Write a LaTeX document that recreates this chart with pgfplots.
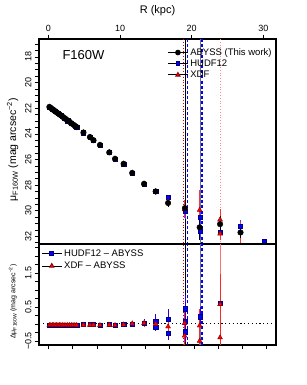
\documentclass[border=0pt]{standalone}
\usepackage{fontspec}
\setmainfont{Liberation Sans}
\usepackage{pgfplots}
\pgfplotsset{compat=1.18}
\usepackage{pgfplotstable}

\pgfplotstableread{
x y e
0.15 21.90 0.02
0.35 21.98 0.02
0.55 22.07 0.02
0.75 22.15 0.02
0.95 22.23 0.02
1.15 22.32 0.02
1.35 22.40 0.02
1.55 22.48 0.02
1.75 22.56 0.02
1.95 22.65 0.02
2.20 22.75 0.02
2.45 22.85 0.02
2.70 22.96 0.02
2.95 23.06 0.02
3.20 23.17 0.02
3.45 23.27 0.02
3.70 23.37 0.02
3.96 23.48 0.03
4.90 23.90 0.03
5.80 24.25 0.03
6.30 24.50 0.03
7.20 24.87 0.04
8.50 25.45 0.05
9.30 25.95 0.06
10.50 26.34 0.08
11.70 27.05 0.15
13.35 27.90 0.18
14.97 28.50 0.20
16.70 29.40 0.35
19.05 29.80 0.45
21.10 31.30 1.00
23.95 31.05 0.60
26.80 31.70 0.40
}\abyss

\pgfplotstableread{
x y e
0.15 21.91 0.02
0.55 22.08 0.02
0.95 22.24 0.02
1.35 22.41 0.02
1.75 22.57 0.02
2.20 22.76 0.02
2.70 22.97 0.02
3.20 23.18 0.02
3.70 23.38 0.02
3.96 23.49 0.03
4.90 23.91 0.03
5.80 24.26 0.03
6.30 24.51 0.03
7.20 24.88 0.04
8.50 25.46 0.05
9.30 25.96 0.06
10.50 26.36 0.08
11.70 27.05 0.15
13.35 27.92 0.20
14.97 28.45 0.25
16.75 28.95 0.20
19.10 30.05 0.60
21.15 30.50 0.60
21.15 31.60 0.50
23.95 31.65 0.50
26.80 31.20 0.50
30.10 32.40 0.10
}\hudf

\pgfplotstableread{
x y e
0.15 21.89 0.02
0.55 22.06 0.02
0.95 22.22 0.02
1.35 22.39 0.02
1.75 22.55 0.02
2.20 22.74 0.02
2.70 22.95 0.02
3.20 23.16 0.02
3.70 23.36 0.02
3.96 23.47 0.03
4.90 23.89 0.03
5.80 24.24 0.03
6.30 24.49 0.03
7.20 24.86 0.04
8.50 25.44 0.05
9.30 25.94 0.06
10.50 26.33 0.08
11.70 27.04 0.15
13.35 27.89 0.20
14.97 28.50 0.25
16.70 29.30 0.30
19.00 29.90 0.70
21.10 29.95 1.60
23.95 30.70 0.80
23.95 31.80 0.50
26.80 31.70 0.80
}\xdf

\pgfplotstableread{
x y e
0.15 -0.03 0.03
0.55 -0.03 0.03
0.95 -0.03 0.03
1.35 -0.03 0.03
1.75 -0.03 0.03
2.20 -0.03 0.03
2.70 -0.03 0.03
3.20 -0.03 0.03
3.70 -0.03 0.03
3.96 -0.03 0.03
4.90 -0.02 0.03
5.80 -0.02 0.03
6.30 -0.02 0.03
7.20 -0.03 0.04
8.50 -0.02 0.04
9.30 -0.03 0.05
10.50 -0.02 0.06
11.70 0.00 0.08
13.35 0.03 0.10
14.97 0.08 0.20
14.97 -0.10 0.10
16.70 0.15 0.30
16.70 -0.27 0.20
19.10 0.45 0.40
19.10 0.07 0.20
19.10 -0.23 0.30
21.15 0.21 0.30
23.95 0.60 0.20
}\dhudf

\pgfplotstableread{
x y e
0.15 -0.04 0.08
0.35 -0.04 0.08
0.55 -0.04 0.08
0.75 -0.04 0.08
0.95 -0.04 0.08
1.15 -0.04 0.08
1.35 -0.04 0.08
1.55 -0.04 0.08
1.75 -0.04 0.08
1.95 -0.04 0.08
2.20 -0.04 0.06
2.45 -0.04 0.06
2.70 -0.04 0.06
2.95 -0.04 0.06
3.20 -0.04 0.06
3.45 -0.04 0.06
3.70 -0.04 0.06
3.96 -0.04 0.06
4.90 -0.03 0.05
5.80 -0.03 0.05
6.30 -0.03 0.05
7.20 -0.04 0.05
8.50 -0.03 0.06
9.30 -0.04 0.06
10.50 -0.02 0.07
11.70 0.01 0.08
13.35 0.02 0.10
14.97 0.00 0.15
16.70 -0.08 0.15
19.00 0.02 0.40
19.00 -0.35 0.30
21.10 -0.05 0.50
21.10 -0.50 0.30
23.95 0.58 0.90
23.95 -0.40 0.30
}\dxdf

\pgfplotsset{
  panel/.style={
    scale only axis, width=237pt,
    xmin=-1.3, xmax=31.75,
    axis line style={line width=1.1pt},
    tick align=outside,
    major tick length=4pt, minor tick length=4pt,
    every tick/.style={black, line width=0.6pt},
    tick label style={font=\fontsize{9}{10}\selectfont},
    /pgf/number format/assume math mode=true,
    yticklabel style={rotate=90, anchor=south},
    ytick pos=left,
    legend cell align=left,
    legend image code/.code={\draw[mark repeat=2,mark phase=2,##1] plot coordinates {(0pt,0pt)(10pt,0pt)(20pt,0pt)};},
  },
  vred/.style={red!85!black, dotted, line width=0.9pt},
  vblack/.style={black, line width=0.9pt},
  vblue/.style={blue, line width=1.7pt, dash pattern=on 3pt off 2.2pt},
  vgrey/.style={black!55, line width=0.9pt},
  vpink/.style={red!45, dotted, line width=0.8pt},
  sabyss/.style={black, mark=*, mark size=2.8pt},
  shudf/.style={blue, mark=square*, mark size=2.1pt, mark options={fill=blue, draw=blue!50!black}},
  sxdf/.style={red, mark=triangle*, mark size=2.8pt, mark options={fill=red, draw=red!50!black}},
}

\begin{document}
\begin{tikzpicture}
\useasboundingbox (-39pt,-40pt) rectangle (268pt,345pt);

% upper panel
\begin{axis}[panel,
  at={(0pt,101pt)}, anchor=south west, height=205pt,
  ymin=16.6, ymax=32.6, y dir=reverse,
  xtick={0,10,20,30}, xtick pos=right, xticklabel pos=right,
  ytick={18,20,...,32}, minor ytick={17,17.5,...,32.5},
  xlabel={R (kpc)},
  xlabel style={font=\fontsize{11}{12}\selectfont, at={(axis description cs:0.5,1)}, anchor=center, yshift=28pt},
  ylabel={μ\textsubscript{F160W} (mag arcsec\textsuperscript{−2})},
  ylabel style={font=\fontsize{10.5}{12}\selectfont, at={(axis description cs:-0.111,0.46)}, anchor=center, rotate=0},
  legend style={draw=none, fill=none, at={(0.995,0.97)}, anchor=north east,
    font=\fontsize{9.5}{10}\selectfont, row sep=-1pt, inner sep=1pt},
]
\addplot[vred, forget plot] coordinates {(18.83,16.6) (18.83,32.6)};
\addplot[vblack, forget plot] coordinates {(19.16,16.6) (19.16,32.6)};
\addplot[vblue, forget plot] coordinates {(19.39,16.6) (19.39,32.6)};
\addplot[vgrey, forget plot] coordinates {(21.16,16.6) (21.16,32.6)};
\addplot[vblue, forget plot] coordinates {(21.39,16.6) (21.39,32.6)};
\addplot[vpink, forget plot] coordinates {(23.94,16.6) (23.94,32.6)};

\addplot[shudf, only marks, forget plot,
  error bars/.cd, y dir=both, y explicit, error mark=none,
  error bar style={blue!75, line width=0.8pt}]
  table[x=x, y=y, y error=e] {\hudf};
\addplot[sxdf, only marks, forget plot,
  error bars/.cd, y dir=both, y explicit, error mark=none,
  error bar style={red!80, line width=0.8pt}]
  table[x=x, y=y, y error=e] {\xdf};
\addplot[sabyss, only marks, forget plot,
  error bars/.cd, y dir=both, y explicit, error mark=none,
  error bar style={black, line width=0.8pt}]
  table[x=x, y=y, y error=e] {\abyss};

\addlegendimage{sabyss, mark size=2.4pt, line width=0.8pt}
\addlegendentry{ABYSS (This work)}
\addlegendimage{shudf, mark size=1.9pt, draw=black, line width=0.8pt}
\addlegendentry{HUDF12}
\addlegendimage{sxdf, mark size=2.5pt, draw=black, line width=0.8pt}
\addlegendentry{XDF}

\node[font=\fontsize{13}{14}\selectfont] at (axis cs:4.9,17.87) {F160W};
\end{axis}

% lower panel
\begin{axis}[panel,
  at={(0pt,0pt)}, anchor=south west, height=101pt,
  ymin=-0.62, ymax=2.35,
  ytick={-0.5,0.5,1.5}, yticklabels={−0.5,0.5,1.5},
  minor ytick={-0.5,-0.25,...,2.25},
  xtick={0,3.385,...,30.6}, xticklabels={}, xtick pos=left,
  ylabel={Δμ\textsubscript{F160W} (mag arcsec\textsuperscript{−2})},
  ylabel style={font=\fontsize{7}{8}\selectfont, at={(axis description cs:-0.11,0.43)}, anchor=center},
  legend style={draw=none, fill=none, at={(0.005,0.975)}, anchor=north west,
    font=\fontsize{9.5}{10}\selectfont, row sep=0pt, inner sep=1pt},
]
\addplot[vred, forget plot] coordinates {(18.83,-0.62) (18.83,2.35)};
\addplot[vblack, forget plot] coordinates {(19.16,-0.62) (19.16,2.35)};
\addplot[vblue, forget plot] coordinates {(19.39,-0.62) (19.39,2.35)};
\addplot[vgrey, forget plot] coordinates {(21.16,-0.62) (21.16,2.35)};
\addplot[vblue, forget plot] coordinates {(21.39,-0.62) (21.39,2.35)};
\addplot[red!55, line width=0.9pt, forget plot] coordinates {(23.94,-0.62) (23.94,2.35)};
\addplot[black, line width=1pt, dash pattern=on 1.2pt off 2.6pt, forget plot] coordinates {(-1.3,0) (31.75,0)};

\addplot[shudf, only marks, forget plot,
  error bars/.cd, y dir=both, y explicit, error mark=none,
  error bar style={blue!60!violet, line width=0.8pt}]
  table[x=x, y=y, y error=e] {\dhudf};
\addplot[sxdf, only marks, forget plot,
  error bars/.cd, y dir=both, y explicit, error mark=none,
  error bar style={red!85, line width=0.8pt}]
  table[x=x, y=y, y error=e] {\dxdf};

\addlegendimage{shudf, mark size=1.9pt, draw=black, line width=0.8pt}
\addlegendentry{HUDF12 – ABYSS}
\addlegendimage{sxdf, mark size=2.5pt, draw=black, line width=0.8pt}
\addlegendentry{XDF – ABYSS}
\end{axis}
\end{tikzpicture}
\end{document}
